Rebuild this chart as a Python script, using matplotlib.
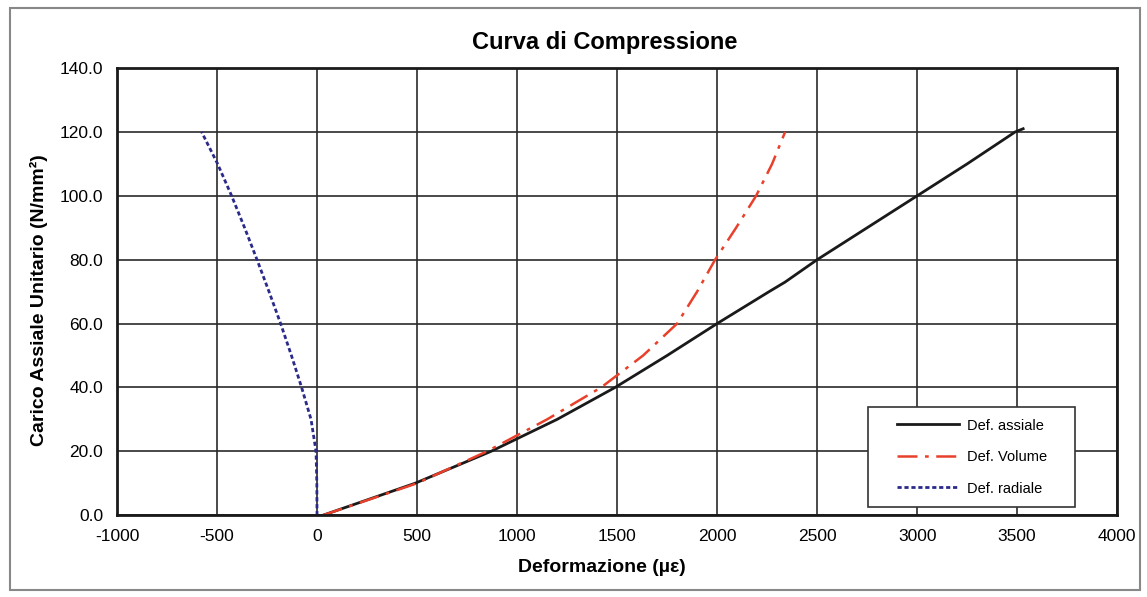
import matplotlib.pyplot as plt
from matplotlib.patches import Rectangle

plt.rcParams['font.family'] = ['Liberation Sans', 'DejaVu Sans']
plt.rcParams['axes.unicode_minus'] = False

# curve data (strain in microstrain, load in N/mm2)
carico_assiale = [0, 10, 20, 30, 40, 50, 60, 70, 73, 80, 90, 100, 110, 120, 121]
def_assiale = [30, 490, 870, 1200, 1490, 1750, 2000, 2260, 2340, 2500, 2750, 3000, 3250, 3490, 3530]

carico_volume = [0, 10, 20, 30, 40, 50, 60, 70, 80, 90, 100, 110, 120]
def_volume = [30, 500, 850, 1150, 1420, 1630, 1800, 1900, 1990, 2095, 2195, 2275, 2340]

carico_radiale = [0, 10, 20, 30, 40, 50, 60, 70, 80, 90, 100, 110, 120]
def_radiale = [0, -1, -5, -30, -77, -128, -182, -240, -300, -362, -427, -497, -577]

x_ticks = [-1000, -500, 0, 500, 1000, 1500, 2000, 2500, 3000, 3500, 4000]
y_ticks = [0, 20, 40, 60, 80, 100, 120, 140]

fig = plt.figure(figsize=(11.47, 5.97), dpi=100)
ax = fig.add_axes([0.102, 0.137, 0.872, 0.749])

# outer frame around the whole chart
fig.patches.append(Rectangle((0.009, 0.012), 0.985, 0.975, transform=fig.transFigure,
                             fill=False, edgecolor='#888888', linewidth=1.5))

ax.plot(def_assiale, carico_assiale, color='#1a1a1a', linewidth=2, label='Def. assiale')
ax.plot(def_volume, carico_volume, color='#e8402a', linewidth=1.8,
        linestyle=(0, (8, 3, 1.5, 3)), label='Def. Volume')
ax.plot(def_radiale, carico_radiale, color='#2a2a8a', linewidth=2,
        linestyle=(0, (1.5, 1)), label='Def. radiale')

ax.set_xlim(-1000, 4000)
ax.set_ylim(0, 140)
ax.set_xticks(x_ticks)
ax.set_yticks(y_ticks)
ax.set_yticklabels([f'{v:.1f}' for v in y_ticks])
ax.tick_params(length=0, labelsize=12.5, pad=10)
ax.grid(True, color='#2a2a2a', linewidth=1.2)
for s in ax.spines.values():
    s.set_linewidth(2)
    s.set_color('#1a1a1a')

ax.set_title('Curva di Compressione', fontsize=17, fontweight='bold', pad=14, x=0.488)
ax.set_xlabel('Deformazione (\u00b5\u03b5)', fontsize=14, fontweight='bold', labelpad=11, x=0.485)
ax.set_ylabel('Carico Assiale Unitario (N/mm\u00b2)', fontsize=14, fontweight='bold', labelpad=8, y=0.48)

# legend box drawn separately so it can be wider than the legend content
ax.add_patch(Rectangle((0.751, 0.018), 0.207, 0.224, transform=ax.transAxes,
                       facecolor='white', edgecolor='#333333', linewidth=1.2, zorder=4.5))
ax.legend(loc='center', bbox_to_anchor=(0.8545, 0.13), frameon=False,
          fontsize=10.5, handlelength=4.3, handletextpad=0.5, labelspacing=1.2,
          borderpad=0)

fig.savefig('out.png', dpi=100)
